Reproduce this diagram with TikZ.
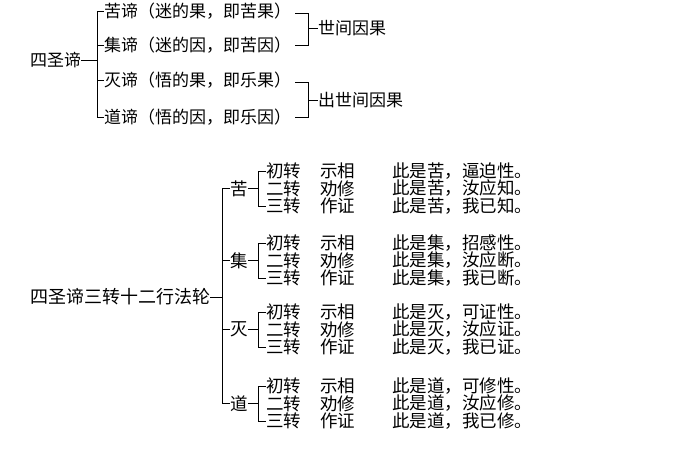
\documentclass[tikz,border=0pt]{standalone}
\usepackage{fontspec}
\setmainfont{Noto Sans CJK SC}
\begin{document}
\begin{tikzpicture}[x=1pt,y=-1pt,
  txt/.style={inner sep=0pt,anchor=west,font=\fontsize{17}{17}\selectfont},
  sm/.style={inner sep=0pt,anchor=west,font=\fontsize{17.5}{17.5}\selectfont},
  ln/.style={line width=0.9pt,black}]
\useasboundingbox (0,0) rectangle (700,470);
% top
\node[txt] (root) at (30,60) {四圣谛};
\node[txt] (t1) at (104,11) {苦谛（迷的果，即苦果）};
\node[txt] (t2) at (104,45) {集谛（迷的因，即苦因）};
\node[txt] (t3) at (104,80) {灭谛（悟的果，即乐果）};
\node[txt] (t4) at (104,117) {道谛（悟的因，即乐因）};
\node[txt] (r1) at (318,28) {世间因果};
\node[txt] (r2) at (318,100) {出世间因果};
\draw[ln] (root.east) -- (97,60);
\draw[ln] (t1.west) -- (97,11) -- (97,117) -- (t4.west);
\draw[ln] (t2.west) -- (97,45);
\draw[ln] (t3.west) -- (97,80);
\draw[ln] ([xshift=4pt,yshift=-2pt]t1.east) -- (308,13) -- (308,45) -- ([xshift=4pt]t2.east);
\draw[ln] (308,28) -- (r1.west);
\draw[ln] ([xshift=4pt,yshift=-2pt]t3.east) -- (308,82) -- (308,117) -- ([xshift=4pt]t4.east);
\draw[ln] (308,100) -- (r2.west);
% bottom
\node[txt,font=\fontsize{18}{18}\selectfont] (B) at (30,297) {四圣谛三转十二行法轮};
\draw[ln] (B.east) -- (222,297);
\draw[ln] (222,188.5) -- (222,403.5);
\foreach \g/\c/\y/\r/\a/\b/\cc in {
 a/苦/171/苦/逼迫性。/汝应知。/我已知。,
 b/集/243/集/招感性。/汝应断。/我已断。,
 c/灭/312/灭/可证性。/汝应证。/我已证。,
 d/道/386/道/可修性。/汝应修。/我已修。}{
  \pgfmathsetmacro\ym{\y+17.5}
  \pgfmathsetmacro\yb{\y+35}
  \node[sm] (h\g) at (230,\ym) {\c};
  \draw[ln] (222,\ym) -- (h\g.west);
  \draw[ln] (h\g.east) -- (258,\ym);
  \draw[ln] (266,\y) -- (258,\y) -- (258,\yb) -- (266,\yb);
  \node[sm] (p\g1) at (266,\y) {初转};
  \node[sm] (p\g2) at (266,\y+17.5) {二转};
  \node[sm] (p\g3) at (266,\yb) {三转};
  \node[sm] (q\g1) at (320,\y) {示相};
  \node[sm] (q\g2) at (320,\y+17.5) {劝修};
  \node[sm] (q\g3) at (320,\yb) {作证};
  \node[sm] (s\g1) at (392,\y) {此是\r，\a};
  \node[sm] (s\g2) at (392,\y+17.5) {此是\r，\b};
  \node[sm] (s\g3) at (392,\yb) {此是\r，\cc};
}
\end{tikzpicture}
\end{document}
